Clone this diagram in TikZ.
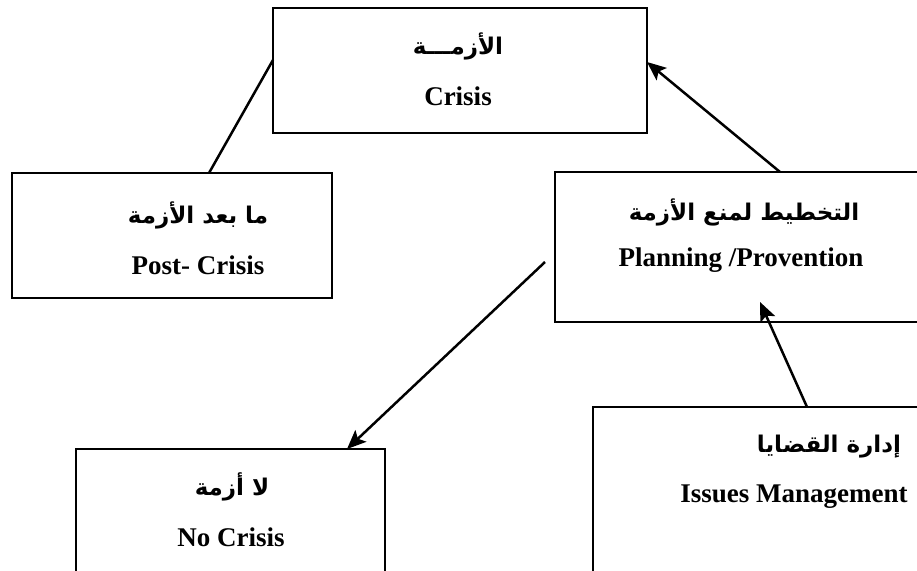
\documentclass[tikz,border=0pt]{standalone}
\usepackage{fontspec}
\setmainfont{Liberation Serif}
\newfontfamily\arabicfont[Script=Arabic]{DejaVu Sans}
\TeXXeTstate=1
\usepackage{tikz}
\usetikzlibrary{arrows.meta}
\tikzset{
    phasebox/.style={rectangle, draw, line width=2pt,
        outer sep=0pt, inner sep=0pt},
    entxt/.style={font=\fontsize{27}{31}\selectfont\bfseries, inner sep=0pt},
    artxt/.style={font=\fontsize{23}{27}\selectfont\arabicfont\bfseries, inner sep=0pt},
    link/.style={line width=2.5pt},
    flow/.style={-{Stealth[length=19pt, width=16pt, inset=4pt]}, line width=2.5pt}
}

\begin{document}
\begin{tikzpicture}[x=1pt, y=-1pt]

\useasboundingbox (0,0) rectangle (917,570);
\clip (0,0) rectangle (917,570);

% Boxes
\node[phasebox, minimum width=374pt, minimum height=125pt] (crisis) at (460, 70.5) {};
\node[phasebox, minimum width=320pt, minimum height=125pt] (post) at (172, 235.5) {};
\node[phasebox, minimum width=372pt, minimum height=150pt] (plan) at (741, 247) {};
\node[phasebox, minimum width=309pt, minimum height=171pt] (nocrisis) at (230.5, 534.5) {};
\node[phasebox, minimum width=407pt, minimum height=213pt] (issues) at (796.5, 513.5) {};

% Texts
\node[artxt] (crisisAr) at (458, 46) {\beginR الأزمـــة\endR};
\node[entxt] (crisisEn) at (458, 96) {Crisis};
\node[artxt] (postAr) at (198, 215) {\beginR ما بعد الأزمة\endR};
\node[entxt] (postEn) at (198, 265) {Post- Crisis};
\node[artxt] (planAr) at (744, 212) {\beginR التخطيط لمنع الأزمة\endR};
\node[entxt] (planEn) at (741, 260) {Planning /Provention};
\node[artxt] (nocrisisAr) at (232, 487) {\beginR لا أزمة\endR};
\node[entxt] (nocrisisEn) at (231, 537) {No Crisis};
\node[artxt] (issuesAr) at (829, 447) {\beginR إدارة القضايا\endR};
\node[entxt] (issuesEn) at (794, 497) {Issues Management};

% Connectors
\draw[link] ([yshift=10.5pt]crisis.west) -- ([xshift=37pt]post.north);
\draw[flow] ([xshift=39pt]plan.north) -- ([yshift=8.5pt]crisis.east);
\draw[flow] ([xshift=-10pt, yshift=-15pt]plan.west) -- ([xshift=116.5pt]nocrisis.north);
\draw[flow] ([xshift=10.5pt]issues.north) -- ([xshift=19pt, yshift=20pt]plan.south);

\end{tikzpicture}
\end{document}
